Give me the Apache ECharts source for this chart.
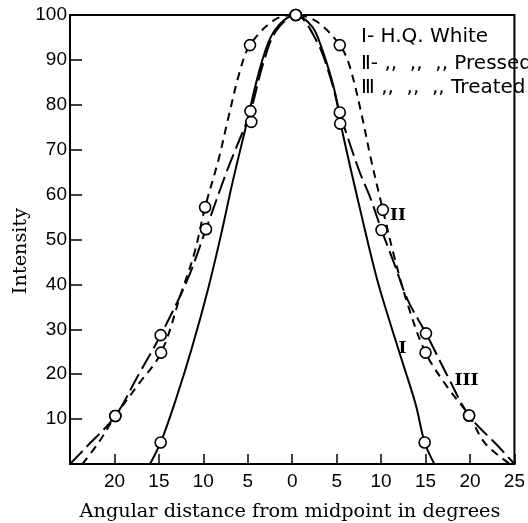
<!DOCTYPE html>
<html><head><meta charset="utf-8">
<script src="https://cdn.jsdelivr.net/npm/echarts@6/dist/echarts.min.js"></script>
<style>html,body{margin:0;padding:0;background:#fff}#c{width:528px;height:523px}</style>
</head><body><div id="c"></div>
<script>
// Tick labels (x axis shows absolute angular distance)
const xTickLabels = ['', '20', '15', '10', '5', '0', '5', '10', '15', '20', '25'];
const yTickLabels = ['', '10', '20', '30', '40', '50', '60', '70', '80', '90', '100'];

// Measured points (open circles) [angle, intensity]
const pointsI   = [[-14.8,4.8],[-4.6,76.2],[0.4,100],[5.4,75.8],[14.9,4.8]];
const pointsII  = [[-19.9,10.7],[-14.75,24.8],[-9.8,57.2],[-4.75,93.3],[0.4,100],[5.35,93.3],[10.2,56.6],[15.0,24.8],[19.9,10.8]];
const pointsIII = [[-19.9,10.7],[-14.8,28.7],[-9.7,52.3],[-4.7,78.6],[0.4,100],[5.35,78.3],[10.05,52.1],[15.05,29.1],[19.9,10.8]];

// Hand-drawn curves
const curveI = [[-16,0],[-14.8,4.8],[-13.1,14.3],[-11.25,26.1],[-9.4,39.5],[-7.9,52],[-6.8,62],[-5.3,74.4],[-3.5,89],[-2,96.5],[0.4,100],
  [2.2,97.5],[3.2,93.3],[4.7,83.7],[5.6,74.4],[7.65,56.6],[9.5,41.5],[11,31.5],[12.45,22.4],[13.9,13.2],[14.9,4.8],[16,0]];
const curveII = [[-23.6,0],[-21.7,5],[-19.9,10.7],[-17.4,17.5],[-14.75,24.8],[-12.5,38],[-11,47],[-9.8,57.2],[-8.3,67.7],[-7.2,77],[-5.9,87.4],[-4.75,93.3],[-2,98.9],[0.4,100],
  [2.8,98.5],[5.35,93.3],[6.4,89],[7.7,78.8],[8.8,68.4],[9.75,60.3],[10.2,56.6],[11.5,46],[13,35.5],[15,24.8],[17.5,17],[19.9,10.8],[21.7,4.6],[24.5,0]];
const curveIII = [[-25,0],[-23.1,3.9],[-19.9,10.7],[-17.4,19.5],[-14.8,28.7],[-11.8,41],[-9.7,52.3],[-7.3,65.5],[-4.7,78.6],[-3.3,89],[-1.8,96.5],[0.4,100],
  [2.8,94],[4.3,86],[5.35,78.3],[6.2,73],[7.65,64.7],[8.75,59.5],[10.05,52.1],[11.5,44.5],[13,36.5],[15.05,29.1],[17.5,19.5],[19.9,10.8],[23.2,3.9],[25,0]];

// Curve labels [angle, intensity, text]
const curveLabels = [[12.4,25.7,'I'],[11.9,55.3,'II'],[19.6,18.6,'III']];
const legendLines = ['Ⅰ- H.Q. White', 'Ⅱ- ,,  ,,  ,, Pressed', 'Ⅲ ,,  ,,  ,, Treated'];

const chart = echarts.init(document.getElementById('c'), null, {renderer:'canvas'});
const lineSeries = (data, type) => ({
  type:'line', data, smooth:0.35, showSymbol:false, silent:true, z:2,
  lineStyle:{color:'#000', width:2, type}
});
const pointSeries = data => ({
  type:'scatter', data, symbol:'circle', symbolSize:11, z:5, silent:true,
  itemStyle:{color:'#fff', borderColor:'#000', borderWidth:1.6, opacity:1}
});
const serifText = {fontFamily:'DejaVu Serif', fontSize:19.3, fill:'#000'};
chart.setOption({
  animation:false,
  backgroundColor:'#fff',
  grid:{left:70, right:9, top:15, bottom:59, show:true, borderColor:'#000', borderWidth:2},
  xAxis:{type:'value', min:-25, max:25, interval:5,
    axisLine:{onZero:false, lineStyle:{color:'#000', width:2}},
    axisTick:{inside:true, length:10, lineStyle:{color:'#000', width:1.5}},
    axisLabel:{margin:8, color:'#000', fontFamily:'Liberation Sans', fontSize:19,
      formatter: v => xTickLabels[Math.round((v + 25) / 5)]},
    splitLine:{show:false}},
  yAxis:{type:'value', min:0, max:100, interval:10,
    axisLine:{show:true, onZero:false, lineStyle:{color:'#000', width:2}},
    axisTick:{show:true, inside:true, length:12, lineStyle:{color:'#000', width:1.5}},
    axisLabel:{margin:3, color:'#000', fontFamily:'Liberation Sans', fontSize:19,
      formatter: v => yTickLabels[Math.round(v / 10)]},
    splitLine:{show:false}},
  graphic:[
    {type:'text', x:290, y:512, style:Object.assign({text:'Angular distance from midpoint in degrees', textAlign:'center', textVerticalAlign:'middle'}, serifText)},
    {type:'text', x:21, y:251, rotation:Math.PI/2, style:Object.assign({text:'Intensity', textAlign:'center', textVerticalAlign:'middle'}, serifText)},
    ...legendLines.map((t, i) => ({type:'text', x:361, y:[37, 64, 88][i],
      style:{text:t, fontFamily:'DejaVu Sans', fontSize:20, fill:'#000', textVerticalAlign:'middle'}}))
  ],
  series:[
    lineSeries(curveI, 'solid'),
    lineSeries(curveII, [8, 6]),
    lineSeries(curveIII, [18, 6]),
    pointSeries(pointsI), pointSeries(pointsII), pointSeries(pointsIII),
    {type:'scatter', symbolSize:0, silent:true, z:6, itemStyle:{opacity:1},
      data: curveLabels.map(d => ({value:[d[0], d[1]], name:d[2]})),
      label:{show:true, position:'inside', formatter: p => p.name, color:'#000', opacity:1,
        fontFamily:'DejaVu Serif', fontWeight:'bold', fontSize:17}}
  ]
});
</script></body></html>
